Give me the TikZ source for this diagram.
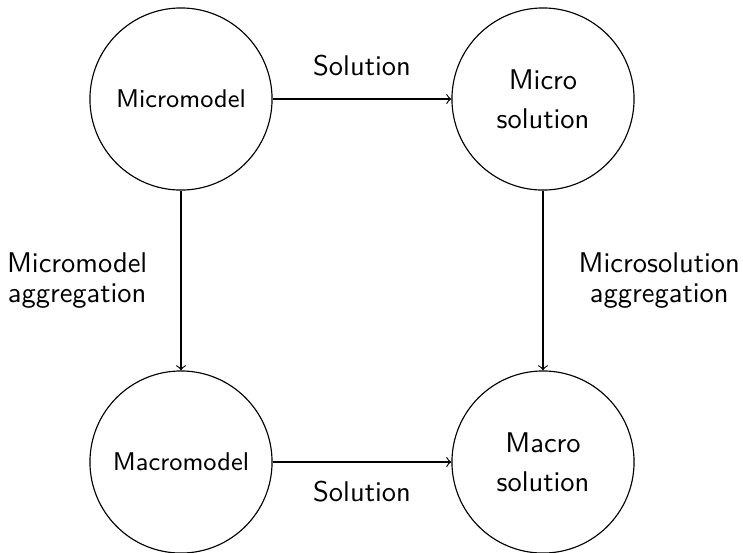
\documentclass[tikz,border=0pt]{standalone}
\usetikzlibrary{arrows}
\begin{document}
\begin{tikzpicture}[x=0.3509pt, y=-0.3509pt,
  font=\sffamily,
  stage/.style={draw, circle, minimum size=63.9pt, inner sep=0pt, align=center},
  flow/.style={->},
  caption/.style={align=center, font=\sffamily\fontsize{10}{10.5}\selectfont}]
  \useasboundingbox (0,0) rectangle (743,552);

  % the four stages
  \node[stage, font=\sffamily\small] (micromodel) at (181,99) {Micromodel};
  \node[stage] (microsol) at (543,99) {Micro\\[1.7pt]solution};
  \node[stage, font=\sffamily\small] (macromodel) at (181,462) {Macromodel};
  \node[stage] (macrosol) at (543,462) {Macro\\[1.7pt]solution};

  % transitions between them
  \draw[flow] (micromodel) -- (microsol)
    node[midway, above=4.5pt] (solTop) {Solution};
  \draw[flow] (macromodel) -- (macrosol)
    node[midway, below=3pt] (solBottom) {Solution};
  \draw[flow] (micromodel) -- (macromodel)
    node[midway, left=8.3pt, caption] (aggModel) {Micromodel\\aggregation};
  \draw[flow] (microsol) -- (macrosol)
    node[midway, right=9pt, caption] (aggSol) {Microsolution\\aggregation};
\end{tikzpicture}
\end{document}
